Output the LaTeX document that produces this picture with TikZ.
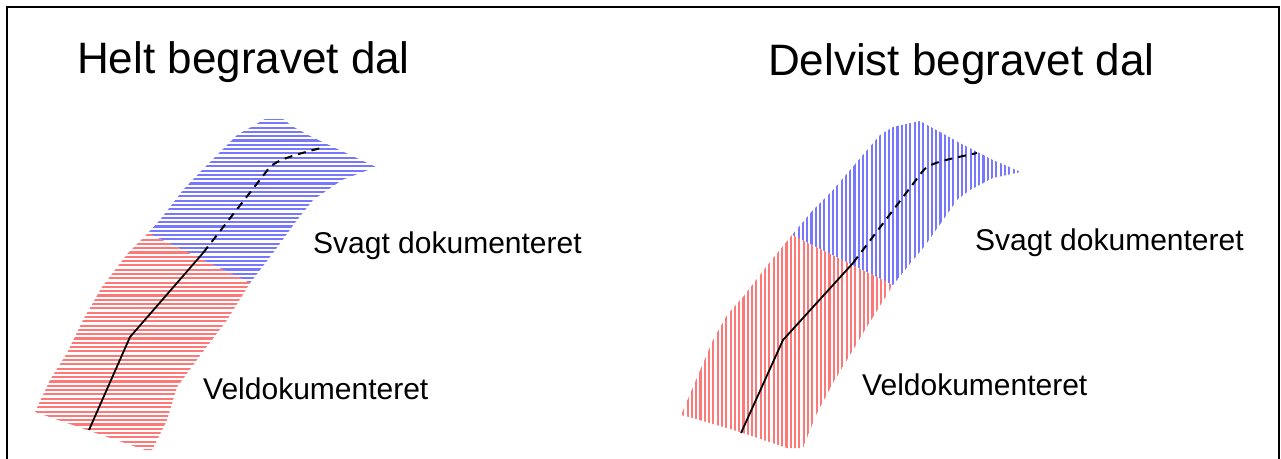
\documentclass[tikz,border=0pt]{standalone}
\usepackage{fontspec}
\setmainfont{Liberation Sans}
\definecolor{hblue}{RGB}{120,120,255}
\definecolor{hred}{RGB}{255,120,120}
\tikzset{
  frameline/.style={line width=2pt,black},
  bluehatch/.style={hblue,line width=2.1pt},
  redhatch/.style={hred,line width=2.1pt},
  axis solid/.style={black,line width=1.8pt,line join=round},
  axis dashed/.style={black,line width=2pt,dash pattern=on 8pt off 6pt},
  title/.style={anchor=base west,inner sep=0pt,font=\fontsize{44}{50}\selectfont},
  label/.style={anchor=base west,inner sep=0pt,font=\fontsize{30}{36}\selectfont},
}
\begin{document}
\begin{tikzpicture}[x=1pt,y=-1pt]
\useasboundingbox (0,0) rectangle (1281,458);
\fill[white] (0,0) rectangle (1281,458);
\draw[frameline] (7,460) -- (7,7) -- (1279,7) -- (1279,460);

% ---- fully buried valley (horizontal hatching) ----
\begin{scope}
  \clip (148,233) -- (160,220) -- (183,190) -- (205,167) -- (225,147) -- (237,135)
        -- (253,126) -- (265,119) -- (283,119) -- (292,126) -- (308,135) -- (333,147)
        -- (376,167) -- (342,180) -- (313,200) -- (297,220) -- (273,253) -- (250,283) -- cycle;
  \foreach \y in {119,123.3,...,290} \draw[bluehatch] (140,\y) -- (390,\y);
\end{scope}
\begin{scope}
  \clip (148,233) -- (250,283) -- (227,320) -- (202,353) -- (177,387) -- (167,420)
        -- (152,450) -- (145,450) -- (35,412) -- (42,397) -- (50,380) -- (67,353)
        -- (83,320) -- (102,287) -- (128,253) -- cycle;
  \foreach \y in {231,235.3,...,452} \draw[redhatch] (30,\y) -- (260,\y);
\end{scope}
\draw[axis solid] (89,430) -- (130,337) -- (203,253);
\draw[axis dashed] (203,253) -- (266,172) .. controls (272,162) and (285,157) .. (325,147);

% ---- partly buried valley (vertical hatching) ----
\begin{scope}
  \clip (792,235) -- (813,210) -- (833,190) -- (880,135) -- (893,127) -- (920,121)
        -- (960,143) -- (993,160) -- (1021,172) -- (993,178) -- (970,190) -- (957,200)
        -- (927,243) -- (893,285) -- cycle;
  \foreach \x in {790,794.3,...,1025} \draw[bluehatch] (\x,115) -- (\x,290);
\end{scope}
\begin{scope}
  \clip (792,235) -- (893,285) -- (873,317) -- (853,350) -- (833,383) -- (817,413)
        -- (803,448) -- (787,448) -- (740,432) -- (693,418) -- (681,415) -- (693,387)
        -- (713,340) -- (727,315) -- (743,297) -- (770,262) -- cycle;
  \foreach \x in {679,683.3,...,900} \draw[redhatch] (\x,230) -- (\x,452);
\end{scope}
\draw[axis solid] (741,433) -- (783,340) -- (853,263);
\draw[axis dashed] (853,263) -- (922,172) .. controls (928,163) and (945,160) .. (977,153);

% ---- texts ----
\node[title] (t1) at (77,73) {Helt begravet dal};
\node[title] (t2) at (768,75) {Delvist begravet dal};
\node[label] (s1) at (313,253) {Svagt dokumenteret};
\node[label] (v1) at (203,399) {Veldokumenteret};
\node[label] (s2) at (975,250) {Svagt dokumenteret};
\node[label] (v2) at (862,395) {Veldokumenteret};
\end{tikzpicture}
\end{document}
